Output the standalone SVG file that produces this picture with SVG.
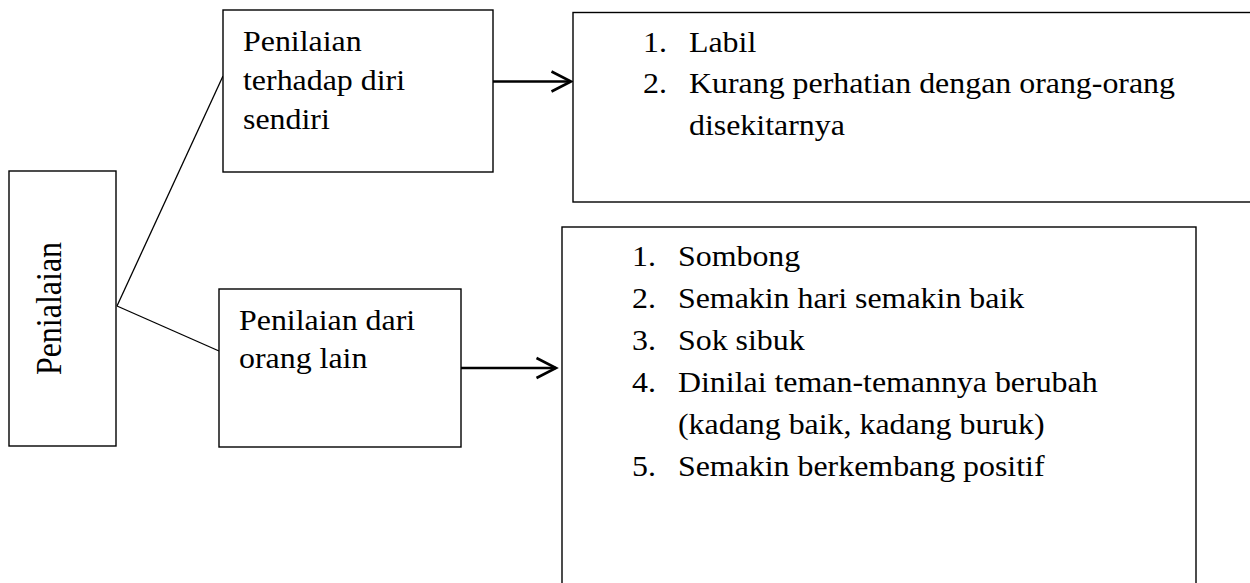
<svg xmlns="http://www.w3.org/2000/svg" width="1250" height="583" viewBox="0 0 1250 583">
  <style>
    .box { fill: #fff; stroke: #000; stroke-width: 1.4; }
    .t { font-family: "Liberation Serif", "Times New Roman", serif; font-size: 29px; fill: #000; }
    .rt { font-family: "Liberation Serif", "Times New Roman", serif; font-size: 32px; fill: #000; }
    .conn { stroke: #000; stroke-width: 1.3; fill: none; }
    .arrow { stroke: #000; stroke-width: 2.6; fill: none; }
  </style>
  <defs>
    <marker id="chev" markerUnits="userSpaceOnUse" viewBox="0 0 26 26" markerWidth="26" markerHeight="26" refX="21" refY="13" orient="auto">
      <path d="M1.5,3 L21,13 L1.5,23" fill="none" stroke="#000" stroke-width="2.6" stroke-linejoin="miter"/>
    </marker>
  </defs>

  <g id="connectors">
    <line class="conn" x1="117" y1="306" x2="223" y2="76"/>
    <line class="conn" x1="117" y1="306" x2="219" y2="351"/>
    <line class="arrow" x1="493" y1="81.5" x2="571" y2="81.5" marker-end="url(#chev)"/>
    <line class="arrow" x1="461" y1="368" x2="556" y2="368" marker-end="url(#chev)"/>
  </g>

  <g id="node-penialaian">
    <rect class="box" x="9" y="171" width="107" height="275"/>
    <text class="rt" text-anchor="middle" transform="translate(61,308.5) scale(1.1,1) rotate(-90)">Penialaian</text>
  </g>

  <g id="node-diri-sendiri">
    <rect class="box" x="223" y="10" width="270" height="162"/>
    <text class="t" transform="matrix(1.1 0 0 1 243 0)">
      <tspan x="0" y="51">Penilaian</tspan>
      <tspan x="0" y="90.5">terhadap diri</tspan>
      <tspan x="0" y="129.5">sendiri</tspan>
    </text>
  </g>

  <g id="node-orang-lain">
    <rect class="box" x="219" y="289" width="242" height="158"/>
    <text class="t" transform="matrix(1.1 0 0 1 239 0)">
      <tspan x="0" y="330">Penilaian dari</tspan>
      <tspan x="0" y="368">orang lain</tspan>
    </text>
  </g>

  <g id="node-hasil-diri">
    <rect class="box" x="573" y="12.5" width="700" height="189.5"/>
    <text class="t" transform="matrix(1.1 0 0 1 643 0)">
      <tspan x="0" y="52">1.</tspan><tspan x="41.8" y="52">Labil</tspan>
      <tspan x="0" y="93.5">2.</tspan><tspan x="41.8" y="93.5">Kurang perhatian dengan orang-orang</tspan>
      <tspan x="41.8" y="135">disekitarnya</tspan>
    </text>
  </g>

  <g id="node-hasil-orang">
    <rect class="box" x="562" y="227" width="634" height="380"/>
    <text class="t" transform="matrix(1.1 0 0 1 632 0)">
      <tspan x="0" y="266">1.</tspan><tspan x="41.8" y="266">Sombong</tspan>
      <tspan x="0" y="308">2.</tspan><tspan x="41.8" y="308">Semakin hari semakin baik</tspan>
      <tspan x="0" y="350">3.</tspan><tspan x="41.8" y="350">Sok sibuk</tspan>
      <tspan x="0" y="392">4.</tspan><tspan x="41.8" y="392">Dinilai teman-temannya berubah</tspan>
      <tspan x="41.8" y="434">(kadang baik, kadang buruk)</tspan>
      <tspan x="0" y="476">5.</tspan><tspan x="41.8" y="476">Semakin berkembang positif</tspan>
    </text>
  </g>
</svg>
